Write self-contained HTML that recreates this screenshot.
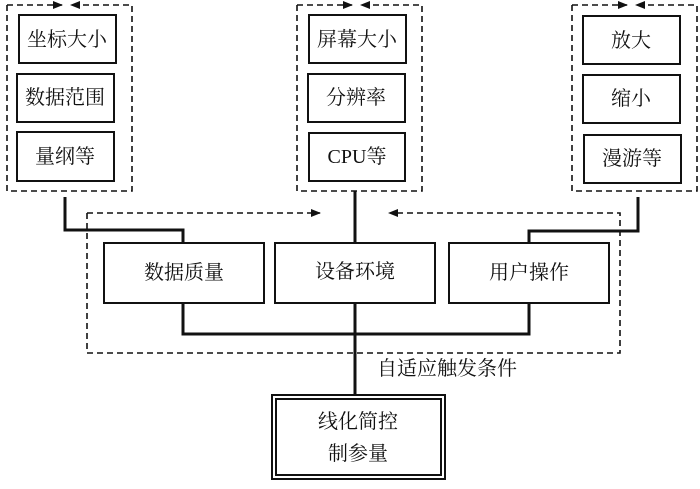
<!DOCTYPE html>
<html><head><meta charset="utf-8"><style>
body{margin:0;background:#fff}
svg text{font-family:"Liberation Serif","Noto Serif CJK SC",serif;font-size:20px;fill:#111;text-anchor:middle;dominant-baseline:central}
</style></head><body>
<svg width="700" height="484" viewBox="0 0 700 484" xmlns="http://www.w3.org/2000/svg">
<defs>
<marker id="ah" markerWidth="10" markerHeight="8" refX="9" refY="4" orient="auto" markerUnits="userSpaceOnUse"><path d="M0,0 L10,4 L0,8 Z" fill="#111"/></marker>
</defs>
<g fill="none" stroke="#111" stroke-width="1.6" stroke-dasharray="6,4">
<!-- left group -->
<path d="M7,5 V191 H132 V5 H80"/>
<path d="M7,5 H62" marker-end="url(#ah)"/>
<!-- center group -->
<path d="M297,5 V191 H422 V5 H370"/>
<path d="M297,5 H352" marker-end="url(#ah)"/>
<!-- right group -->
<path d="M572,5 V191 H697 V5 H645"/>
<path d="M572,5 H627" marker-end="url(#ah)"/>
<!-- big dashed -->
<path d="M87,213 V353 H620 V213 H392"/>
<path d="M87,213 H320" marker-end="url(#ah)"/>
</g>
<g fill="none" stroke="#111" stroke-width="1.6" stroke-dasharray="none">
<path d="M80,5 H78"/>
</g>
<!-- arrowheads for leftward pointing -->
<g fill="#111">
<path d="M70,5 L80,1 L80,9 Z"/>
<path d="M360,5 L370,1 L370,9 Z"/>
<path d="M635,5 L645,1 L645,9 Z"/>
<path d="M388,213 L398,209 L398,217 Z"/>
</g>
<!-- solid connectors -->
<g fill="none" stroke="#111" stroke-width="3">
<path d="M65,197 V230 H183 V243"/>
<path d="M355,191 V243"/>
<path d="M638,197 V231 H529 V243"/>
<path d="M183,303 V334 H529 V303"/>
<path d="M355,303 V395"/>
</g>
<g fill="#fff" stroke="#111" stroke-width="2">
<rect x="19" y="15" width="97" height="48"/>
<rect x="17" y="74" width="97" height="48"/>
<rect x="17" y="132" width="97" height="49"/>
<rect x="309" y="15" width="97" height="48"/>
<rect x="308" y="74" width="97" height="48"/>
<rect x="309" y="133" width="96" height="48"/>
<rect x="583" y="16" width="97" height="48"/>
<rect x="583" y="75" width="97" height="48"/>
<rect x="584" y="135" width="97" height="48"/>
<rect x="104" y="243" width="160" height="60"/>
<rect x="275" y="243" width="160" height="60"/>
<rect x="449" y="243" width="160" height="60"/>
<rect x="272" y="395" width="173" height="84"/>
<rect x="276" y="399" width="165" height="76"/>
</g>
<text x="67" y="40">坐标大小</text>
<text x="65" y="98">数据范围</text>
<text x="65" y="157">量纲等</text>
<text x="357" y="40">屏幕大小</text>
<text x="356" y="98">分辨率</text>
<text x="357" y="157">CPU等</text>
<text x="631" y="41">放大</text>
<text x="631" y="99">缩小</text>
<text x="632" y="159">漫游等</text>
<text x="184" y="273">数据质量</text>
<text x="355" y="272">设备环境</text>
<text x="529" y="273">用户操作</text>
<text x="447" y="369">自适应触发条件</text>
<text x="358" y="422">线化简控</text>
<text x="358" y="454">制参量</text>
</svg>
</body></html>
